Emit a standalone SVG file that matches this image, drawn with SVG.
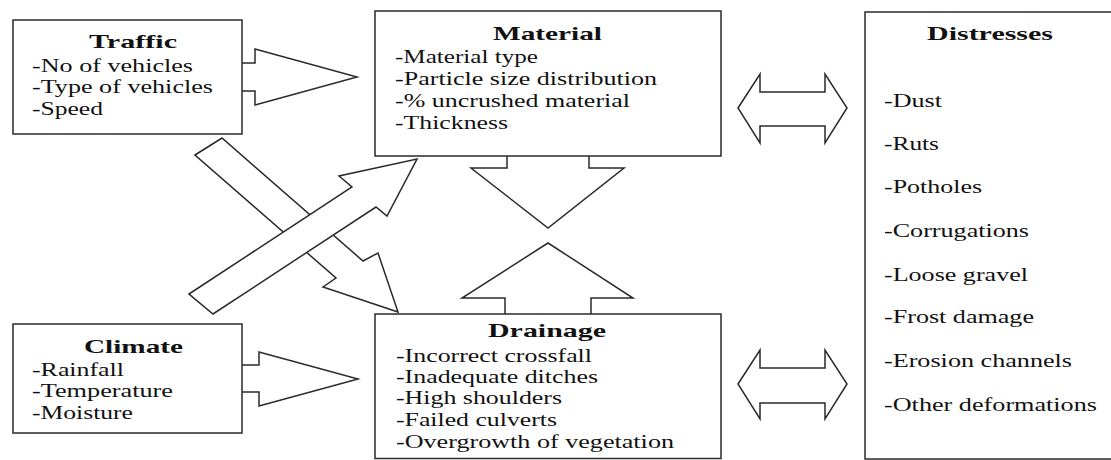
<svg xmlns="http://www.w3.org/2000/svg" width="1111" height="460" viewBox="0 0 1111 460">
<style>
.box{fill:#fff;stroke:#2a2a2a;stroke-width:1.5}
.arr{fill:#fff;stroke:#2a2a2a;stroke-width:1.5;stroke-linejoin:miter}
.t{font-family:"Liberation Serif","Times New Roman",serif;font-size:18.5px;fill:#111}
.h{font-family:"Liberation Serif","Times New Roman",serif;font-size:19.5px;font-weight:bold;fill:#111}
</style>
<rect width="1111" height="460" fill="#fff"/>
<g id="connectors">
<polygon class="arr" points="195,155 222,138 363,261 378,253 398,312 323,287 336,278"/>
<polygon class="arr" points="189,294 352,187 339,176 417,159 387,216 376,207 213,314"/>
<polyline class="arr" points="242,63 255,63 255,49 357,77 255,105 255,91 242,91"/>
<polyline class="arr" points="242,365 259,365 259,352 358,379 259,406 259,392 242,392"/>
<polyline class="arr" points="507,156 507,168 471,168 548,228 624,168 589,168 589,156"/>
<polyline class="arr" points="505,314 505,298 462,298 548,243 633,298 591,298 591,314"/>
<polygon class="arr" points="738,108 760,74 760,92 825,92 825,74 847,108 825,143 825,126 760,126 760,143"/>
<polygon class="arr" points="738,384 760,350 760,368 825,368 825,350 847,384 825,419 825,403 760,403 760,419"/>
</g>
<g id="traffic">
<rect class="box" x="13" y="20" width="229" height="114"/>
<text class="h" x="89" y="48" textLength="88" lengthAdjust="spacingAndGlyphs">Traffic</text>
<text class="t" x="32" y="72" textLength="161" lengthAdjust="spacingAndGlyphs">-No of vehicles</text>
<text class="t" x="32" y="93" textLength="181" lengthAdjust="spacingAndGlyphs">-Type of vehicles</text>
<text class="t" x="32" y="115" textLength="71" lengthAdjust="spacingAndGlyphs">-Speed</text>
</g>
<g id="climate">
<rect class="box" x="13" y="324" width="229" height="109"/>
<text class="h" x="84" y="353" textLength="99" lengthAdjust="spacingAndGlyphs">Climate</text>
<text class="t" x="32" y="376" textLength="92" lengthAdjust="spacingAndGlyphs">-Rainfall</text>
<text class="t" x="32" y="397" textLength="141" lengthAdjust="spacingAndGlyphs">-Temperature</text>
<text class="t" x="32" y="419" textLength="101" lengthAdjust="spacingAndGlyphs">-Moisture</text>
</g>
<g id="material">
<rect class="box" x="375" y="11" width="346" height="145"/>
<text class="h" x="493" y="40" textLength="109" lengthAdjust="spacingAndGlyphs">Material</text>
<text class="t" x="395" y="63" textLength="143" lengthAdjust="spacingAndGlyphs">-Material type</text>
<text class="t" x="395" y="85" textLength="262" lengthAdjust="spacingAndGlyphs">-Particle size distribution</text>
<text class="t" x="395" y="107" textLength="235" lengthAdjust="spacingAndGlyphs">-% uncrushed material</text>
<text class="t" x="395" y="129" textLength="113" lengthAdjust="spacingAndGlyphs">-Thickness</text>
</g>
<g id="drainage">
<rect class="box" x="375" y="314" width="346" height="144.5"/>
<text class="h" x="488" y="337" textLength="118" lengthAdjust="spacingAndGlyphs">Drainage</text>
<text class="t" x="396" y="362" textLength="196" lengthAdjust="spacingAndGlyphs">-Incorrect crossfall</text>
<text class="t" x="396" y="383" textLength="202" lengthAdjust="spacingAndGlyphs">-Inadequate ditches</text>
<text class="t" x="396" y="404" textLength="166" lengthAdjust="spacingAndGlyphs">-High shoulders</text>
<text class="t" x="396" y="426" textLength="161" lengthAdjust="spacingAndGlyphs">-Failed culverts</text>
<text class="t" x="396" y="448" textLength="278" lengthAdjust="spacingAndGlyphs">-Overgrowth of vegetation</text>
</g>
<g id="distresses">
<rect class="box" x="865" y="12" width="260" height="447"/>
<text class="h" x="927" y="40" textLength="126" lengthAdjust="spacingAndGlyphs">Distresses</text>
<text class="t" x="884" y="107" textLength="58" lengthAdjust="spacingAndGlyphs">-Dust</text>
<text class="t" x="884" y="150" textLength="55" lengthAdjust="spacingAndGlyphs">-Ruts</text>
<text class="t" x="884" y="193" textLength="98" lengthAdjust="spacingAndGlyphs">-Potholes</text>
<text class="t" x="884" y="237" textLength="145" lengthAdjust="spacingAndGlyphs">-Corrugations</text>
<text class="t" x="884" y="281" textLength="144" lengthAdjust="spacingAndGlyphs">-Loose gravel</text>
<text class="t" x="884" y="323" textLength="150" lengthAdjust="spacingAndGlyphs">-Frost damage</text>
<text class="t" x="884" y="367" textLength="188" lengthAdjust="spacingAndGlyphs">-Erosion channels</text>
<text class="t" x="884" y="411" textLength="213" lengthAdjust="spacingAndGlyphs">-Other deformations</text>
</g>
</svg>
